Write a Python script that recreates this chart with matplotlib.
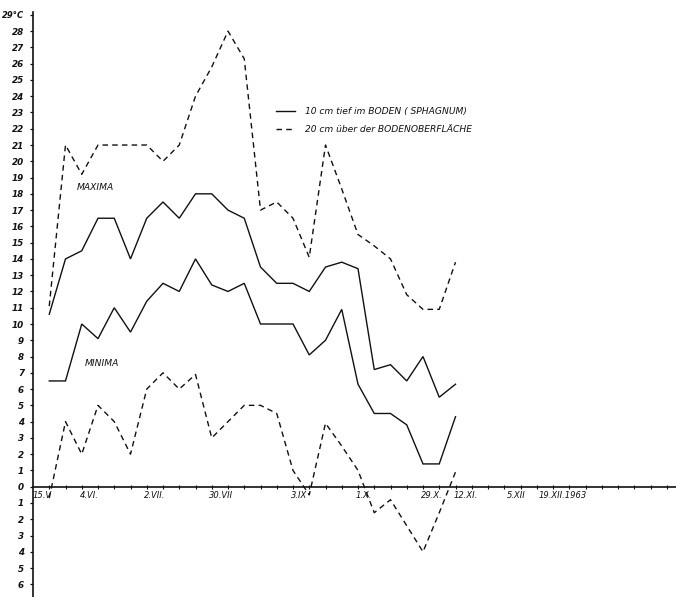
import numpy as np
import pandas as pd
import matplotlib
matplotlib.use("Agg")
import matplotlib.pyplot as plt
from matplotlib.lines import Line2D

# Weekly readings (°C), season 1963; x = weeks after 15 May
week = np.arange(1, 27)

soil_max = [10.6, 14.0, 14.5, 16.5, 16.5, 14.0, 16.5, 17.5, 16.5, 18.0, 18.0, 17.0, 16.5,
            13.5, 12.5, 12.5, 12.0, 13.5, 13.8, 13.4, 7.2, 7.5, 6.5, 8.0, 5.5, 6.3]
soil_min = [6.5, 6.5, 10.0, 9.1, 11.0, 9.5, 11.4, 12.5, 12.0, 14.0, 12.4, 12.0, 12.5,
            10.0, 10.0, 10.0, 8.1, 9.0, 10.9, 6.3, 4.5, 4.5, 3.8, 1.4, 1.4, 4.3]
air_max = [11.1, 21.0, 19.2, 21.0, 21.0, 21.0, 21.0, 20.0, 21.0, 24.0, 25.8, 28.0, 26.3,
           17.0, 17.5, 16.5, 14.1, 21.0, 18.3, 15.5, 14.8, 14.0, 11.8, 10.9, 10.9, 13.8]
air_min = [-0.7, 4.0, 2.0, 5.0, 4.0, 2.0, 6.0, 7.0, 6.0, 6.9, 3.0, 4.0, 5.0,
           5.0, 4.5, 1.0, -0.5, 3.9, 2.5, 1.0, -1.6, -0.8, -2.4, -4.0, -1.6, 0.9]

start_date = "1963-05-15"
date_ticks = ["1963-05-15", "1963-06-04", "1963-07-02", "1963-07-30", "1963-09-03",
              "1963-10-01", "1963-10-29", "1963-11-12", "1963-12-05", "1963-12-19"]
date_labels = ["15.V", "4.VI.", "2.VII.", "30.VII", "3.IX", "1.X.", "29.X.", "12.XI.",
               "5.XII", "19.XII.1963"]

y_ticks = list(range(29, -7, -1))
y_labels = ["29°C"] + [str(abs(v)) for v in y_ticks[1:]]

legend_labels = ["10 cm tief im BODEN ( SPHAGNUM)", "20 cm über der BODENOBERFLÄCHE"]

INK = "#111111"
FONT = ["DejaVu Sans"]

W, H = 676, 597
fig = plt.figure(figsize=(W / 100, H / 100), dpi=100)
ax = fig.add_axes([33 / W, 0, (W - 33) / W, 1])

ax.set_xlim(0, (W - 33) / 16.25)
ax.set_ylim(-(H - 486.7) / 16.27, 486.7 / 16.27)

lw = 1.0
dash = (0, (4, 3))
ax.plot(week, soil_max, color=INK, lw=lw, solid_joinstyle="miter")
ax.plot(week, soil_min, color=INK, lw=lw, solid_joinstyle="miter")
ax.plot(week, air_max, color=INK, lw=lw, linestyle=dash)
ax.plot(week, air_min, color=INK, lw=lw, linestyle=dash)

# spines: y-axis on the left, x-axis running along 0 °C
for s in ("top", "right"):
    ax.spines[s].set_visible(False)
ax.spines["bottom"].set_position(("data", 0))
ax.spines["left"].set_bounds(ax.get_ylim()[0], 29.15)
for s in ("left", "bottom"):
    ax.spines[s].set_linewidth(1.2)
    ax.spines[s].set_color(INK)

ax.set_yticks(y_ticks)
ax.set_yticklabels(y_labels, fontsize=6.3, fontstyle="italic", fontweight="bold",
                   family=FONT, color=INK)
ax.tick_params(axis="y", direction="out", length=2.5, width=0.9, pad=4, colors=INK)
# the unit label at the top is set a little smaller so it fits the margin
top_label = ax.get_yticklabels()[0]
top_label.set_fontsize(6.0)

tick_pos = (pd.to_datetime(date_ticks) - pd.Timestamp(start_date)).days.values / 7.0
ax.set_xticks(tick_pos)
ax.set_xticklabels(date_labels, fontsize=6.0, fontstyle="italic", family=FONT,
                   color=INK, ha="left")
ax.tick_params(axis="x", which="major", length=0, pad=3.0)
ax.set_xticks(np.arange(0, 40), minor=True)
ax.tick_params(axis="x", which="minor", direction="inout", length=3.5, width=0.8,
               colors=INK)

ax.text(2.71, 18.36, "MAXIMA", fontsize=6.6, fontstyle="italic", family=FONT,
        color=INK, ha="left", va="center")
ax.text(3.2, 7.6, "MINIMA", fontsize=6.6, fontstyle="italic", family=FONT,
        color=INK, ha="left", va="center")

handles = [Line2D([], [], color=INK, lw=lw),
           Line2D([], [], color=INK, lw=lw, linestyle=dash)]
leg = ax.legend(handles, legend_labels, loc="upper left",
                bbox_to_anchor=(276 / W, 1 - 107 / H), bbox_transform=fig.transFigure,
                frameon=False, borderpad=0, borderaxespad=0, handlelength=2.1,
                handletextpad=1.1, labelspacing=1.0,
                prop={"size": 6.6, "style": "italic", "family": FONT})
for t in leg.get_texts():
    t.set_color(INK)

fig.savefig("out.png", dpi=100)
